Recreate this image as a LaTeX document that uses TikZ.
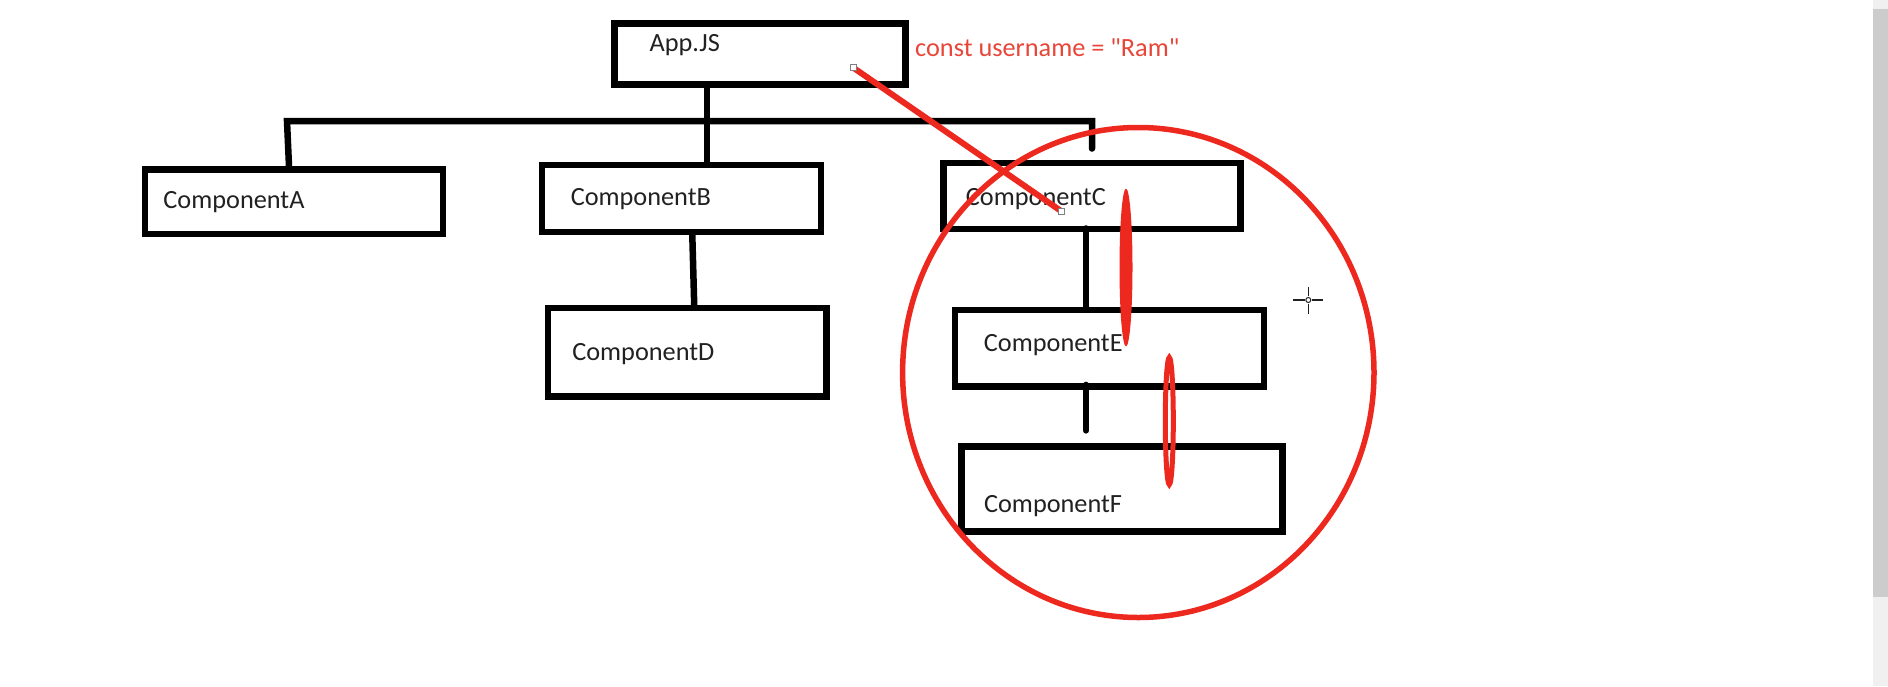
\documentclass[tikz,border=0pt]{standalone}
\usepackage{fontspec}
\setmainfont{Carlito}
\usepackage{xcolor}
\usepackage{tikz}
\definecolor{ink}{rgb}{0.13,0.13,0.13}
\definecolor{marker}{rgb}{0.93,0.16,0.12}
\definecolor{note}{rgb}{0.91,0.27,0.22}
\definecolor{thumb}{rgb}{0.80,0.80,0.80}
\definecolor{track}{rgb}{0.94,0.94,0.94}

\begin{document}
\begin{tikzpicture}[
  x=1pt, y=-1pt,
  box/.style 2 args={draw, line width=6.5pt, minimum width=#1pt, minimum height=#2pt, inner sep=0pt},
  tag/.style={anchor=base west, inner sep=0pt, text=ink},
  link/.style={line width=6.5pt, line cap=round},
  pen/.style={draw=marker, line width=5.5pt, line cap=round},
  handle/.style={draw=gray, fill=white, line width=1pt, minimum size=6pt, inner sep=0pt},
  font=\fontsize{26.3}{31}\selectfont]
  \useasboundingbox (0,0) rectangle (1888,686);

  % the component boxes
  \node[box={290.6}{60.6}] (app) at (760,54) {};
  \node[box={298}{64.5}] (a) at (294,201.8) {};
  \node[box={279}{67}] (b) at (681.3,198.5) {};
  \node[box={297}{66.4}] (c) at (1092,196) {};
  \node[box={278.7}{88.7}] (d) at (687.2,352.2) {};
  \node[box={309}{76.7}] (e) at (1109.5,348.3) {};
  \node[box={320.7}{84.7}] (f) at (1122,489) {};

  \node[tag] (app-t) at ([shift={(38,-2.3)}]app.west) {App.JS};
  \node[tag] (a-t) at ([shift={(21.5,6.5)}]a.west) {ComponentA};
  \node[tag] (b-t) at ([shift={(32,6.5)}]b.west) {ComponentB};
  \node[tag] (c-t) at ([shift={(25.5,9)}]c.west) {ComponentC};
  \node[tag] (d-t) at ([shift={(27.5,8.5)}]d.west) {ComponentD};
  \node[tag] (e-t) at ([shift={(32,3.4)}]e.west) {ComponentE};
  \node[tag] (f-t) at ([shift={(25.5,23.7)}]f.west) {ComponentF};

  % connectors
  \coordinate (hub) at (707,121);
  \coordinate (spine) at (1086,0);
  \draw[link] (hub |- app.south) -- (hub |- b.north);
  \draw[link] ([xshift=-5pt]a.north) -- ([xshift=-7pt]a.north |- hub)
    -- (c.north |- hub) -- ([yshift=11pt]c.north);
  \draw[link] ([xshift=11pt]b.south) -- ([xshift=7pt]d.north);
  \draw[link] ([yshift=4pt]spine |- c.south) -- ([yshift=-3pt]spine |- e.north);
  \draw[link] ([yshift=5pt]spine |- e.south) -- ([yshift=13pt]spine |- f.north);

  % red marks
  \node[tag, text=note] (username) at (915,56.7) {const username = \textquotedbl Ram\textquotedbl};
  \coordinate (src) at (853.3,67.7);
  \coordinate (dst) at (1061,211);
  \draw[pen] (1138.3,372.5) ellipse[x radius=235.7pt, y radius=245pt];
  \draw[pen, line width=6pt] (src) -- (dst);
  \node[handle] at (src) {};
  \node[handle] at (dst) {};
  \fill[marker] (1126,267.5) ellipse[x radius=6.5pt, y radius=79pt];
  \draw[marker, line width=5pt] (1169.3,421) ellipse[x radius=4pt, y radius=63.5pt];

  % cursor and scroll bar
  \draw[ink, line width=1.3pt] (1293,300) -- (1304.5,300) (1312,300) -- (1323,300)
    (1308.3,286.5) -- (1308.3,296.2) (1308.3,303.8) -- (1308.3,313.5);
  \draw[ink, line width=1pt] (1308.3,300) circle[radius=2.5pt];
  \fill[track] (1872.7,0) rectangle (1888,686);
  \fill[thumb] (1872.7,9.3) rectangle (1888,596.7);
\end{tikzpicture}
\end{document}
